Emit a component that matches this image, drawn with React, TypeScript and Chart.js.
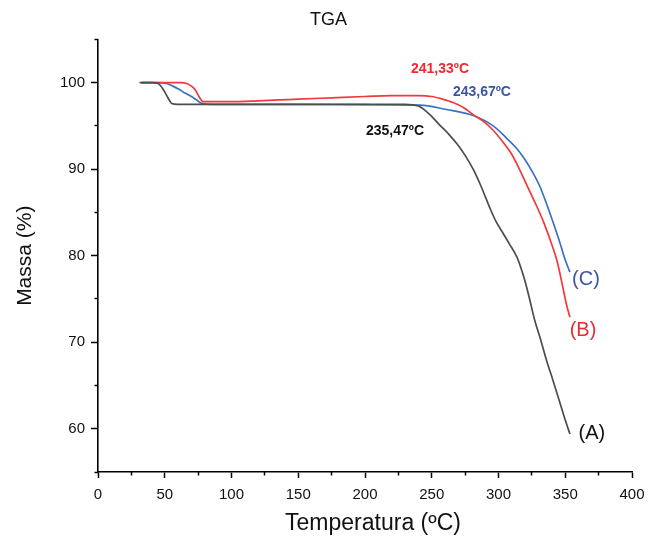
import { useEffect, useRef } from 'react';
import { Chart, registerables } from 'chart.js';

Chart.register(...registerables);

// ---- data ----
const tempA = [32, 40, 45, 48.9, 52.6, 55.2, 60, 80, 100, 150, 200, 230, 240, 248, 256, 263, 269, 275, 281, 287, 293.6, 298, 303.4, 308, 313.9, 317, 320, 323.6, 327, 331, 336, 341, 346, 350, 353.5];
const massA = [100, 100, 99.9, 99.2, 98.2, 97.6, 97.5, 97.5, 97.5, 97.5, 97.5, 97.5, 97.3, 96.4, 95.1, 94.0, 92.9, 91.6, 90.0, 88.0, 85.5, 84.0, 82.6, 81.4, 79.8, 78.5, 77.0, 74.8, 72.6, 70.6, 67.9, 65.5, 63.0, 61.0, 59.4];

const tempB = [33, 50, 62, 66.4, 70, 72.7, 76.4, 78.7, 85, 100, 120, 136, 150, 175, 200, 220, 240, 250, 258, 266, 274, 281, 289, 296, 303, 310, 316, 322, 329, 334, 339, 344, 348, 351, 353.5];
const massB = [100, 100, 100, 99.9, 99.6, 99.2, 98.2, 97.8, 97.8, 97.8, 97.9, 98.0, 98.1, 98.25, 98.4, 98.5, 98.5, 98.4, 98.1, 97.7, 97.1, 96.3, 95.5, 94.5, 93.2, 91.7, 89.9, 87.9, 85.6, 83.8, 81.7, 79.3, 76.5, 74.3, 72.9];

const tempC = [31, 45, 51.4, 56, 61, 64, 66.4, 70, 73.9, 77.7, 85, 100, 150, 200, 241, 261, 281, 296, 306, 313, 319, 325, 331, 336, 341, 346, 350, 353.5];
const massC = [100, 100, 99.9, 99.6, 99.2, 98.9, 98.7, 98.4, 98.0, 97.6, 97.5, 97.5, 97.5, 97.45, 97.4, 96.9, 96.2, 95.0, 93.6, 92.5, 91.3, 89.8, 88.0, 86.0, 83.8, 81.5, 79.5, 78.1];

const seriesNames = ['(A)', '(B)', '(C)'];
const seriesColors = ['#4d4d4d', '#f03a3a', '#3b70c2'];
const seriesLabelColors = ['#111111', '#ee2a2e', '#3a55a6'];
const onsetLabels = ['235,47ºC', '241,33ºC', '243,67ºC'];
const onsetColors = ['#111111', '#ee2a2e', '#3a55a6'];

const chartTitle = 'TGA';
const xTitle = 'Temperatura (ºC)';
const yTitle = 'Massa (%)';

const xMajorTicks = [0, 50, 100, 150, 200, 250, 300, 350, 400];
const xMinorTicks = [25, 75, 125, 175, 225, 275, 325, 375];
const yMajorTicks = [60, 70, 80, 90, 100];
const yMinorTicks = [55, 65, 75, 85, 95, 105];

// label anchor positions, in data units
const seriesLabelPos = [
  { x: 370, y: 59.4 },
  { x: 363.3, y: 71.4 },
  { x: 365.5, y: 77.2 },
];
const onsetLabelPos = [
  { x: 222.5, y: 94.4 },
  { x: 256.2, y: 101.6 },
  { x: 287.6, y: 98.9 },
];

const FONT = "'Liberation Sans', Arial, Helvetica, sans-serif";

const zip = (xs: number[], ys: number[]) => xs.map((x, i) => ({ x, y: ys[i] }));

const labelPlugin = {
  id: 'textLabels',
  afterDatasetsDraw(chart: any) {
    const { ctx, scales, chartArea } = chart;
    const xs = scales.x;
    const ys = scales.y;
    ctx.save();
    ctx.textAlign = 'center';
    ctx.textBaseline = 'middle';
    // chart title
    ctx.fillStyle = '#111111';
    ctx.font = `normal 18px ${FONT}`;
    ctx.fillText(chartTitle, chart.width / 2 + 1, 20);
    // x axis title
    ctx.font = `normal 23px ${FONT}`;
    ctx.fillText(xTitle, (chartArea.left + chartArea.right) / 2 + 8, 524);
    // series labels
    ctx.font = `normal 20px ${FONT}`;
    seriesNames.forEach((t, i) => {
      ctx.fillStyle = seriesLabelColors[i];
      ctx.fillText(t, xs.getPixelForValue(seriesLabelPos[i].x), ys.getPixelForValue(seriesLabelPos[i].y));
    });
    ctx.font = `bold 14px ${FONT}`;
    onsetLabels.forEach((t, i) => {
      ctx.fillStyle = onsetColors[i];
      ctx.fillText(t, xs.getPixelForValue(onsetLabelPos[i].x), ys.getPixelForValue(onsetLabelPos[i].y));
    });
    ctx.restore();
  },
};

export default function App() {
  const ref = useRef<HTMLCanvasElement | null>(null);

  useEffect(() => {
    if (!ref.current) return;
    const tickFont = { family: FONT, size: 15 };
    const chart = new Chart(ref.current, {
      type: 'line',
      data: {
        datasets: [
          { label: seriesNames[0], data: zip(tempA, massA), borderColor: seriesColors[0] },
          { label: seriesNames[1], data: zip(tempB, massB), borderColor: seriesColors[1] },
          { label: seriesNames[2], data: zip(tempC, massC), borderColor: seriesColors[2] },
        ].map((d) => ({
          ...d,
          borderWidth: 1.7,
          pointRadius: 0,
          fill: false,
          cubicInterpolationMode: 'monotone' as const,
        })),
      },
      plugins: [labelPlugin],
      options: {
        animation: false,
        responsive: true,
        maintainAspectRatio: false,
        layout: { padding: { left: 0, right: 23, top: 39.4, bottom: 0 } },
        plugins: {
          legend: { display: false },
          tooltip: { enabled: false },
          title: { display: false },
        },
        scales: {
          x: {
            type: 'linear',
            position: 'bottom',
            weight: 1,
            min: 0,
            max: 400,
            afterBuildTicks: (s: any) => {
              s.ticks = xMajorTicks.map((v) => ({ value: v }));
            },
            afterFit: (s: any) => {
              s.height = 67;
            },
            ticks: { font: tickFont, color: '#111111', padding: 8, autoSkip: false, maxRotation: 0 },
            grid: { drawOnChartArea: false, drawTicks: true, tickLength: 6, tickColor: '#000000', tickWidth: 1.5 },
            border: { display: true, color: '#000000', width: 1.6 },
            title: { display: false },
          },
          x2: {
            type: 'linear',
            position: 'bottom',
            weight: 0,
            min: 0,
            max: 400,
            afterBuildTicks: (s: any) => {
              s.ticks = xMinorTicks.map((v) => ({ value: v }));
            },
            afterFit: (s: any) => {
              s.height = 0;
            },
            ticks: { display: false },
            grid: { drawOnChartArea: false, drawTicks: true, tickLength: 3.5, tickColor: '#000000', tickWidth: 1.5 },
            border: { display: false },
          },
          y: {
            type: 'linear',
            position: 'left',
            weight: 1,
            min: 55,
            max: 105,
            afterBuildTicks: (s: any) => {
              s.ticks = yMajorTicks.map((v) => ({ value: v }));
            },
            afterFit: (s: any) => {
              s.width = 98;
            },
            ticks: { font: tickFont, color: '#111111', padding: 6 },
            grid: { drawOnChartArea: false, drawTicks: true, tickLength: 7, tickColor: '#000000', tickWidth: 1.5 },
            border: { display: true, color: '#000000', width: 1.6 },
            title: {
              display: true,
              text: yTitle,
              color: '#111111',
              font: { family: FONT, size: 21 },
              padding: { top: 13, bottom: 0 },
            },
          },
          y2: {
            type: 'linear',
            position: 'left',
            weight: 0,
            min: 55,
            max: 105,
            afterBuildTicks: (s: any) => {
              s.ticks = yMinorTicks.map((v) => ({ value: v }));
            },
            afterFit: (s: any) => {
              s.width = 0;
            },
            ticks: { display: false },
            grid: { drawOnChartArea: false, drawTicks: true, tickLength: 3.5, tickColor: '#000000', tickWidth: 1.5 },
            border: { display: false },
          },
        },
      } as any,
    });
    return () => chart.destroy();
  }, []);

  return (
    <div style={{ position: 'absolute', left: 0, top: 0, width: 655, height: 539, background: '#ffffff' }}>
      <canvas ref={ref} />
    </div>
  );
}
